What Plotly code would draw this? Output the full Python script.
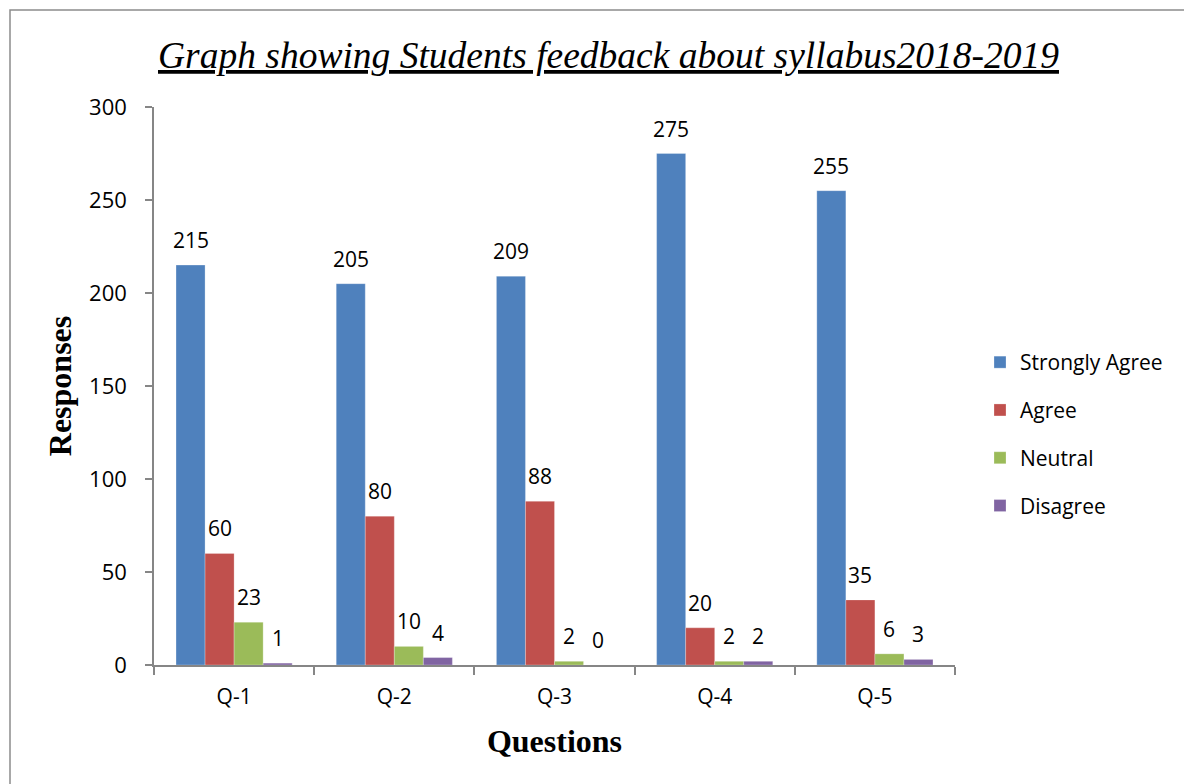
import plotly.graph_objects as go

questions = ["Q-1", "Q-2", "Q-3", "Q-4", "Q-5"]
strongly_agree = [215, 205, 209, 275, 255]
agree = [60, 80, 88, 20, 35]
neutral = [23, 10, 2, 2, 6]
disagree = [1, 4, 0, 2, 3]
series_names = ["Strongly Agree", "Agree", "Neutral", "Disagree"]
series_values = [strongly_agree, agree, neutral, disagree]
colors = ["#4F81BD", "#C0504D", "#9BBB59", "#8064A2"]

OFF = 8  # page body margin
W, H = 1192 - OFF, 784 - OFF
L = 154 - OFF
T = 107 - OFF
R = W - (955 - OFF)
B = H - (665 - OFF)
pw, ph = W - L - R, H - T - B
bargap = 0.275

def px_x(p):  # reference pixel -> paper x
    return (p - OFF - L) / pw

def px_y(p):  # reference pixel -> paper y
    return (H - B - (p - OFF)) / ph

SANS = "Open Sans, Lato, sans-serif"
SERIF = "Liberation Serif, Times New Roman, serif"

fig = go.Figure()
for k, (name, vals, col) in enumerate(zip(series_names, series_values, colors)):
    fig.add_trace(go.Bar(
        x=questions, y=vals, name=name, legendgroup=name,
        marker=dict(color=col, line=dict(color="rgba(255,255,255,0.5)", width=0.5)),
    ))

n = len(series_names)
bw = (1 - bargap) / n
annotations = []
for k, vals in enumerate(series_values):
    for i, v in enumerate(vals):
        xc = i - (1 - bargap) / 2 + (k + 0.5) * bw
        annotations.append(dict(
            x=xc, y=v, xref="x", yref="y", text=str(v), showarrow=False,
            yanchor="middle", yshift=25,
            font=dict(family=SANS, size=21, color="black"),
        ))

annotations.append(dict(
    x=px_x(608), y=px_y(55), xref="paper", yref="paper",
    text="Graph showing Students feedback about syllabus2018-2019",
    showarrow=False, xanchor="center", yanchor="middle",
    font=dict(family=SERIF, size=37.5, color="black", style="italic", lineposition="under"),
))

fig.update_layout(
    width=W, height=H,
    margin=dict(l=L, r=R, t=T, b=B),
    paper_bgcolor="white", plot_bgcolor="white",
    barmode="group", bargap=bargap, bargroupgap=0,
    annotations=annotations,
    showlegend=True,
    legend=dict(
        x=px_x(980), y=px_y(342), xanchor="left", yanchor="top",
        font=dict(family=SANS, size=21, color="black"),
        tracegroupgap=17.5, itemwidth=30,
    ),
    xaxis=dict(
        showline=True, linecolor="#868686", linewidth=1.5,
        ticks="outside", tickson="boundaries", ticklen=8, tickcolor="#868686", tickwidth=1.5,
        tickfont=dict(family=SANS, size=21, color="black"),
        ticklabelstandoff=12,
        title=dict(text="<b>Questions</b>", standoff=21,
                   font=dict(family=SERIF, size=32, color="black")),
        showgrid=False,
    ),
    yaxis=dict(
        range=[0, 300], dtick=50, showline=True, linecolor="#868686", linewidth=1.5,
        ticks="outside", ticklen=7, tickcolor="#868686", tickwidth=1.5,
        tickfont=dict(family=SANS, size=22, color="black"),
        ticklabelstandoff=14,
        title=dict(text="<b>Responses</b>", standoff=8,
                   font=dict(family=SERIF, size=32, color="black")),
        showgrid=False, zeroline=False,
    ),
    shapes=[dict(
        type="rect", xref="paper", yref="paper",
        x0=px_x(10), x1=px_x(1215),
        y0=px_y(805), y1=px_y(10),
        line=dict(color="#8c8c8c", width=1.5), fillcolor="rgba(0,0,0,0)", layer="below",
    )],
)

fig.write_html("out.html")
